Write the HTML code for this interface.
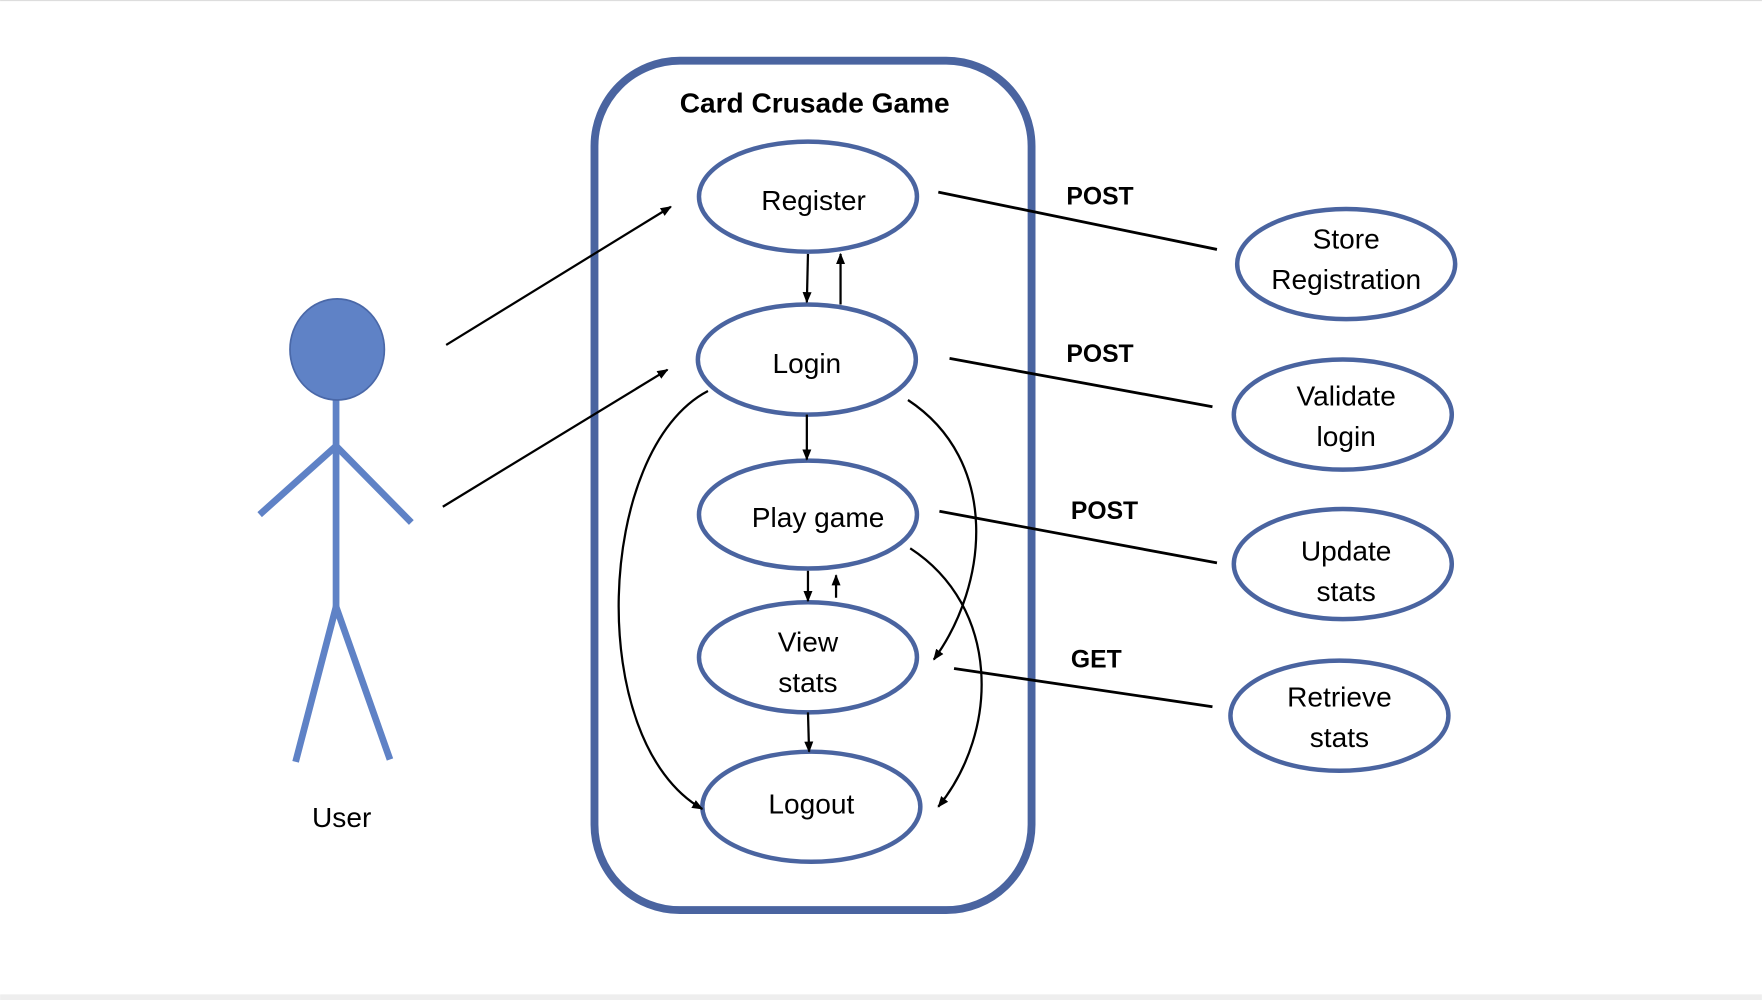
<!DOCTYPE html>
<html><head><style>
html,body{margin:0;padding:0;background:#fff;}
svg{display:block;}
text{font-family:"Liberation Sans",sans-serif;}
</style></head><body>
<svg width="1762" height="1000" viewBox="0 0 1568 890" xmlns="http://www.w3.org/2000/svg">
<defs>
<marker id="a" markerWidth="10" markerHeight="10" refX="9" refY="5" orient="auto" markerUnits="userSpaceOnUse">
<path d="M0,1 L10,5 L0,9 z" fill="#000"/>
</marker>
</defs>
<rect x="0" y="0" width="1568" height="890" fill="#fff"/>
<line x1="0" y1="0.5" x2="1568" y2="0.5" stroke="#ddd" stroke-width="1"/>
<rect x="0" y="885" width="1568" height="5" fill="#eee"/>
<rect x="529" y="54" width="389" height="756" rx="76" ry="76" fill="none" stroke="#4a64a0" stroke-width="7"/>
<text x="725" y="100" font-size="25" font-weight="bold" text-anchor="middle">Card Crusade Game</text>
<g fill="none" stroke="#4a64a0" stroke-width="4">
<ellipse cx="719" cy="175" rx="97" ry="49"/>
<ellipse cx="718" cy="320" rx="97" ry="49"/>
<ellipse cx="719" cy="458" rx="97" ry="48"/>
<ellipse cx="719" cy="585" rx="97" ry="49"/>
<ellipse cx="722" cy="718" rx="97" ry="49"/>
<ellipse cx="1198" cy="235" rx="97" ry="49"/>
<ellipse cx="1195" cy="369" rx="97" ry="49"/>
<ellipse cx="1195" cy="502" rx="97" ry="49"/>
<ellipse cx="1192" cy="637" rx="97" ry="49"/>
</g>
<g font-size="25" text-anchor="middle" fill="#000">
<text x="724" y="187">Register</text>
<text x="718" y="332">Login</text>
<text x="728" y="469">Play game</text>
<text x="719" y="580">View</text>
<text x="719" y="616">stats</text>
<text x="722" y="724">Logout</text>
<text x="1198" y="221">Store</text>
<text x="1198" y="257">Registration</text>
<text x="1198" y="361">Validate</text>
<text x="1198" y="397">login</text>
<text x="1198" y="499">Update</text>
<text x="1198" y="535">stats</text>
<text x="1192" y="629">Retrieve</text>
<text x="1192" y="665">stats</text>
<text x="304" y="736">User</text>
</g>
<g font-size="22" font-weight="bold">
<text x="949" y="182">POST</text>
<text x="949" y="322">POST</text>
<text x="953" y="462">POST</text>
<text x="953" y="594">GET</text>
</g>
<g stroke="#000" stroke-width="2.5" fill="none">
<line x1="835" y1="171" x2="1083" y2="222"/>
<line x1="845" y1="319" x2="1079" y2="362"/>
<line x1="836" y1="455" x2="1083" y2="501"/>
<line x1="849" y1="595" x2="1079" y2="629"/>
</g>
<g stroke="#000" stroke-width="2" fill="none" marker-end="url(#a)">
<line x1="397" y1="307" x2="597" y2="184"/>
<line x1="394" y1="451" x2="594" y2="329"/>
<line x1="719" y1="226" x2="718" y2="269"/>
<line x1="748" y1="271" x2="748" y2="226"/>
<line x1="718" y1="369" x2="718" y2="409"/>
<line x1="719" y1="508" x2="719" y2="535"/>
<line x1="744" y1="532" x2="744" y2="512"/>
<line x1="719" y1="634" x2="720" y2="669"/>
<path d="M630,348 C530,400 520,660 625,720"/>
<path d="M808,356 C890,410 880,520 831,587"/>
<path d="M810,488 C890,540 890,650 835,718"/>
</g>
<g stroke="#5f82c6" stroke-width="6" fill="none">
<line x1="299" y1="355" x2="299" y2="540"/>
<polyline points="231,458 299,397 366,465"/>
<polyline points="263,678 299,540 347,676"/>
</g>
<ellipse cx="300" cy="311" rx="42" ry="45" fill="#5f82c6" stroke="#4a68a8" stroke-width="1.5"/>
</svg>
</body></html>
